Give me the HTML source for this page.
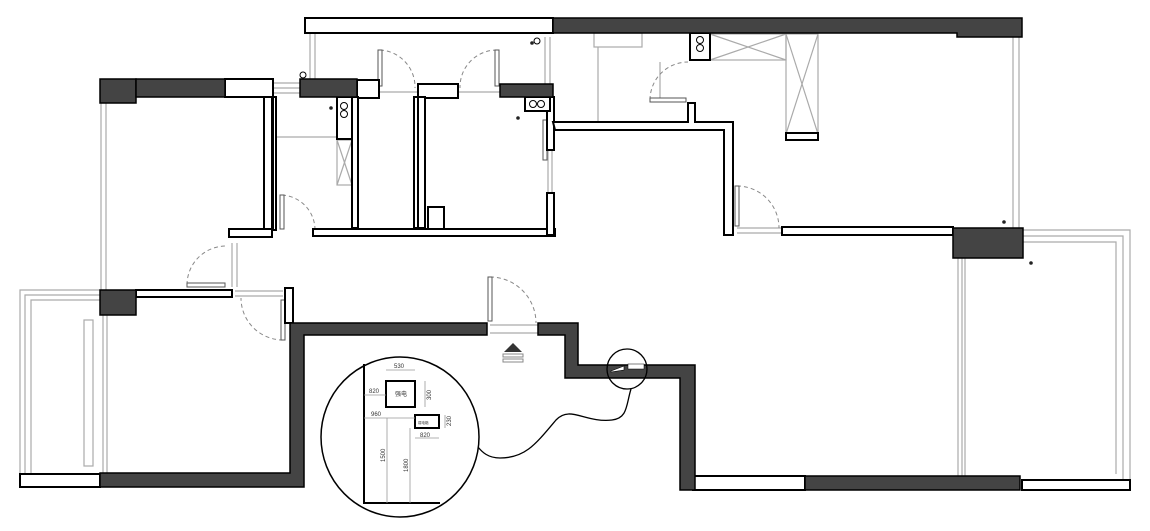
<!DOCTYPE html>
<html><head><meta charset="utf-8"><style>
html,body{margin:0;padding:0;background:#fff;}
svg{display:block;}
</style></head><body>
<svg width="1150" height="531" viewBox="0 0 1150 531" xmlns="http://www.w3.org/2000/svg" font-family="Liberation Sans, Noto Sans CJK SC, sans-serif">
<rect width="1150" height="531" fill="#fff"/>
<g fill="none" stroke="#aaa" stroke-width="1.2">
 <line x1="101" y1="103" x2="101" y2="290"/><line x1="106" y1="103" x2="106" y2="290"/>
 <polyline points="100,290 20,290 20,474"/><polyline points="100,295 25,295 25,474"/><polyline points="100,300 31,300 31,474"/>
 <rect x="84" y="320" width="9" height="146"/>
 <line x1="103" y1="315" x2="103" y2="474"/><line x1="107" y1="315" x2="107" y2="474"/>
 <line x1="1013" y1="37" x2="1013" y2="228"/><line x1="1019" y1="37" x2="1019" y2="228"/>
 <polyline points="1022,230 1130,230 1130,480"/><polyline points="1022,236 1123,236 1123,480"/><polyline points="1022,242 1116,242 1116,474"/>
 <line x1="958" y1="258" x2="958" y2="476"/><line x1="962" y1="258" x2="962" y2="476"/><line x1="965" y1="258" x2="965" y2="476"/>
 <line x1="310" y1="33" x2="310" y2="79"/><line x1="315" y1="33" x2="315" y2="79"/>
 <line x1="273" y1="83" x2="300" y2="83"/><line x1="273" y1="88" x2="300" y2="88"/><line x1="273" y1="93" x2="300" y2="93"/>
 <line x1="380" y1="92" x2="418" y2="92"/><line x1="458" y1="92" x2="500" y2="92"/>
 <line x1="545" y1="37" x2="545" y2="84"/><line x1="550" y1="37" x2="550" y2="84"/>
 <rect x="594" y="33" width="48" height="14"/>
 <line x1="598" y1="47" x2="598" y2="122"/>
 <line x1="275" y1="137" x2="337" y2="137"/>
 <rect x="710" y="34" width="76" height="26"/><line x1="710" y1="34" x2="786" y2="60"/><line x1="710" y1="60" x2="786" y2="34"/>
 <rect x="786" y="34" width="32" height="100"/><line x1="786" y1="34" x2="818" y2="134"/><line x1="818" y1="34" x2="786" y2="134"/>
 <rect x="337" y="140" width="15" height="45"/><line x1="337" y1="140" x2="352" y2="185"/><line x1="352" y1="140" x2="337" y2="185"/>
 <line x1="232" y1="243" x2="232" y2="287"/><line x1="237" y1="243" x2="237" y2="287"/>
 <line x1="235" y1="291" x2="283" y2="291"/><line x1="235" y1="296" x2="283" y2="296"/>
 <line x1="490" y1="325" x2="540" y2="325"/><line x1="490" y1="333" x2="540" y2="333"/>
 <line x1="737" y1="228" x2="782" y2="228"/><line x1="737" y1="233" x2="782" y2="233"/>
 <line x1="548" y1="150" x2="548" y2="193"/><line x1="552" y1="150" x2="552" y2="193"/>
 <line x1="660" y1="62" x2="660" y2="100"/>
</g>
<g fill="none" stroke="#888" stroke-width="1" stroke-dasharray="4,3">
 <path d="M380,50 A37,37 0 0 1 415,88"/>
 <path d="M497,50 A37,37 0 0 0 460,88"/>
 <path d="M650,100 A38,38 0 0 1 688,62"/>
 <path d="M737,186 A42,42 0 0 1 779,228"/>
 <path d="M282,195 A35,35 0 0 1 315,230"/>
 <path d="M187,285 A39,39 0 0 1 226,246"/>
 <path d="M283,340 A42,42 0 0 1 241,298"/>
 <path d="M490,277 A46,46 0 0 1 536,323"/>
</g>
<g fill="#fff" stroke="#555" stroke-width="1">
 <rect x="378" y="50" width="4" height="36"/><rect x="495" y="50" width="4" height="36"/>
 <rect x="650" y="98" width="36" height="4"/><rect x="735" y="186" width="4" height="40"/>
 <rect x="280" y="195" width="4" height="34"/><rect x="187" y="283" width="38" height="4"/>
 <rect x="281" y="300" width="4" height="40"/><rect x="488" y="277" width="4" height="44"/>
 <rect x="543" y="120" width="4" height="40"/>
</g>
<g fill="#fff" stroke="#000" stroke-width="2">
 <rect x="305" y="18" width="248" height="15"/>
 <rect x="225" y="79" width="48" height="18"/>
 <rect x="357" y="80" width="22" height="18"/>
 <rect x="418" y="84" width="40" height="14"/>
 <rect x="264" y="97" width="8" height="133"/>
 <rect x="229" y="229" width="43" height="8"/>
 <rect x="273" y="97" width="3" height="133"/>
 <rect x="352" y="97" width="6" height="131"/>
 <rect x="414" y="97" width="4" height="131"/>
 <rect x="418" y="97" width="7" height="131"/>
 <rect x="313" y="229" width="242" height="7"/>
 <rect x="547" y="97" width="7" height="53"/>
 <rect x="547" y="193" width="7" height="42"/>
 <polygon points="553,122 688,122 688,103 695,103 695,122 733,122 733,235 724,235 724,130 555,130"/>
 <rect x="782" y="227" width="171" height="8"/>
 <rect x="136" y="290" width="96" height="7"/>
 <rect x="285" y="288" width="8" height="35"/>
 <rect x="428" y="207" width="16" height="22"/>
 <rect x="337" y="97" width="15" height="42"/>
 <rect x="690" y="33" width="20" height="27"/>
 <rect x="525" y="97" width="25" height="14"/>
 <rect x="786" y="133" width="32" height="7"/>
 <rect x="693" y="476" width="112" height="14"/>
 <rect x="1022" y="480" width="108" height="10"/>
 <rect x="20" y="474" width="80" height="13"/>
</g>
<g fill="none" stroke="#000" stroke-width="1">
 <circle cx="344" cy="106" r="3.5"/><circle cx="344" cy="114" r="3.5"/>
 <circle cx="700" cy="40" r="3.5"/><circle cx="700" cy="48" r="3.5"/>
 <circle cx="533" cy="104" r="3.5"/><circle cx="541" cy="104" r="3.5"/>
 <circle cx="303" cy="75" r="3"/><circle cx="537" cy="41" r="3"/>
</g>
<g fill="#222"><circle cx="331" cy="108" r="1.8"/><circle cx="518" cy="118" r="1.8"/><circle cx="532" cy="43" r="1.8"/><circle cx="1004" cy="222" r="1.8"/><circle cx="1031" cy="263" r="1.8"/></g>
<g fill="#444" stroke="#000" stroke-width="1.5">
 <polygon points="553,18 1022,18 1022,37 957,37 957,33 553,33"/>
 <rect x="100" y="79" width="36" height="24"/>
 <rect x="136" y="79" width="89" height="18"/>
 <rect x="300" y="79" width="57" height="18"/>
 <rect x="500" y="84" width="53" height="13"/>
 <rect x="953" y="228" width="70" height="30"/>
 <rect x="100" y="290" width="36" height="25"/>
 <polygon points="290,323 487,323 487,335 304,335 304,487 100,487 100,473 290,473"/>
 <polygon points="538,323 578,323 578,365 695,365 695,490 680,490 680,378 565,378 565,335 538,335"/>
 <rect x="805" y="476" width="215" height="14"/>
</g>
<polygon points="504,352 513,343 522,352" fill="#333"/>
<rect x="503" y="354" width="20" height="3" fill="none" stroke="#888"/><rect x="503" y="359" width="20" height="3" fill="none" stroke="#888"/>
<circle cx="627" cy="369" r="20" fill="none" stroke="#000" stroke-width="1.3"/>
<polygon points="611,371 624,366 624,370 611,372" fill="#fff" stroke="#000" stroke-width="0.6"/><rect x="628" y="364" width="16" height="5" fill="#fff" stroke="#000" stroke-width="0.5"/>
<path d="M631,389 C626,405 628,418 612,420 C585,423 570,405 556,420 C535,445 525,458 500,458 C488,458 482,452 478,447" fill="none" stroke="#000" stroke-width="1.3"/>
<ellipse cx="400" cy="437" rx="79" ry="80" fill="none" stroke="#000" stroke-width="1.5"/>
<g stroke="#000" fill="none">
 <polyline points="364,364 364,503 440,503" stroke-width="2"/>
 <rect x="386" y="381" width="29" height="26" stroke-width="2"/>
 <rect x="415" y="415" width="24" height="13" stroke-width="2"/>
</g>
<g stroke="#999" stroke-width="0.8">
 <line x1="386" y1="370" x2="415" y2="370"/><line x1="425" y1="381" x2="425" y2="407"/>
 <line x1="364" y1="395" x2="386" y2="395"/><line x1="364" y1="418" x2="415" y2="418"/>
 <line x1="445" y1="415" x2="445" y2="428"/><line x1="415" y1="438" x2="439" y2="438"/>
 <line x1="387" y1="418" x2="387" y2="503"/><line x1="410" y1="428" x2="410" y2="503"/>
</g>
<g font-size="6" fill="#333">
 <text x="394" y="368">530</text><text x="369" y="393">820</text><text x="395" y="396" font-size="6">强电</text>
 <text x="371" y="416">960</text><text x="420" y="437">820</text><text x="418" y="424" font-size="3.5">弱电箱</text>
 <text x="0" y="0" transform="translate(431,400) rotate(-90)">300</text>
 <text x="0" y="0" transform="translate(451,426) rotate(-90)">230</text>
 <text x="0" y="0" transform="translate(385,462) rotate(-90)">1500</text>
 <text x="0" y="0" transform="translate(408,472) rotate(-90)">1800</text>
</g>
</svg>
</body></html>
